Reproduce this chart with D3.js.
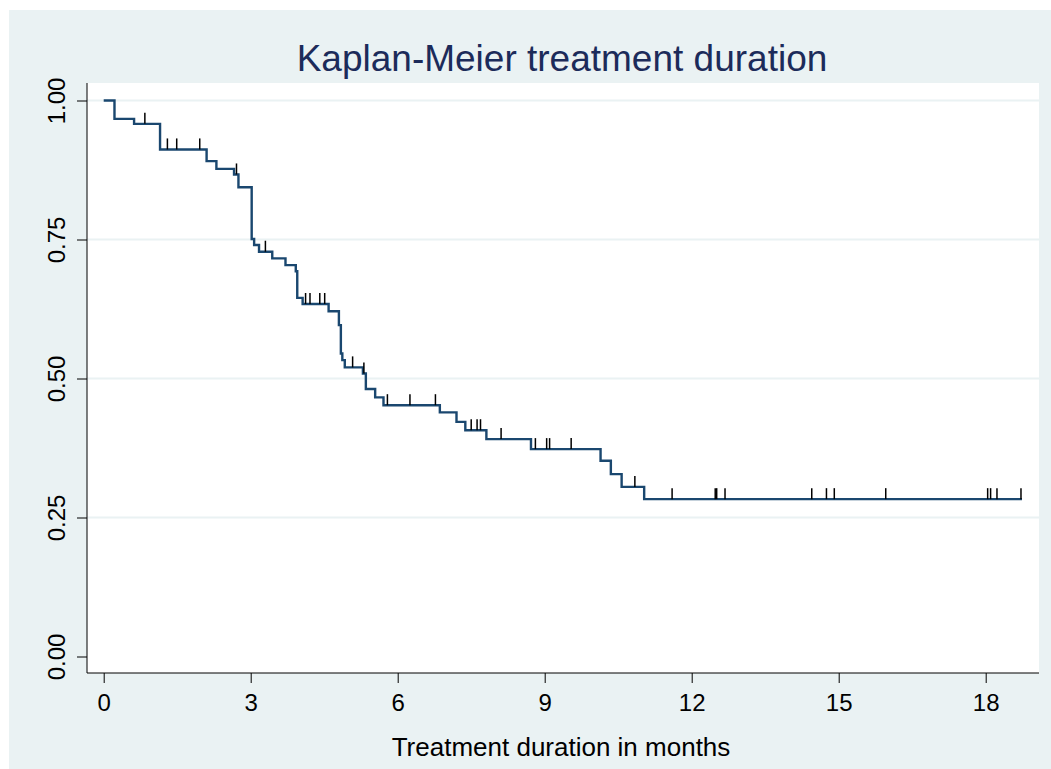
<!DOCTYPE html>
<html>
<head>
<meta charset="utf-8">
<script src="https://cdn.jsdelivr.net/npm/d3@7"></script>
<style>
  body { margin: 0; background: #fff; }
  text { font-family: "Liberation Sans", Arial, sans-serif; }
</style>
</head>
<body>
<div id="chart"></div>
<script>
// step times (months) where an event drops the curve, and survival after the drop
var eventTimes = [0.22, 0.62, 1.15, 2.10, 2.30, 2.66, 2.75, 3.02, 3.07, 3.17, 3.44, 3.71,
  3.92, 3.95, 4.06, 4.59, 4.80, 4.84, 4.87, 4.92, 5.29, 5.35, 5.54, 5.71, 6.86, 7.20,
  7.38, 7.81, 8.72, 10.14, 10.35, 10.57, 11.03];
var survival = [0.967, 0.958, 0.912, 0.891, 0.877, 0.867, 0.844, 0.751, 0.740, 0.728, 0.716, 0.704,
  0.693, 0.645, 0.634, 0.621, 0.596, 0.545, 0.533, 0.520, 0.509, 0.481, 0.466, 0.452, 0.439, 0.422,
  0.407, 0.391, 0.373, 0.352, 0.328, 0.305, 0.283];
// censored observations
var censorTimes = [0.84, 1.30, 1.49, 1.96, 2.71, 3.30, 4.12, 4.21, 4.41, 4.51, 5.08, 5.31,
  5.79, 6.25, 6.77, 7.50, 7.62, 7.69, 8.11, 8.81, 9.04, 9.10, 9.54, 10.84, 11.60, 12.48,
  12.51, 12.68, 14.45, 14.75, 14.91, 15.96, 18.04, 18.10, 18.23, 18.72];
var lastTime = 18.74;
var xTicks = [0, 3, 6, 9, 12, 15, 18];
var yTicks = [0, 0.25, 0.5, 0.75, 1];

var W = 1051, H = 769;
var box = {left: 87, right: 1039, top: 83, bottom: 673};

var svg = d3.select("#chart").append("svg")
    .attr("width", W)
    .attr("height", H);

// outer panel
svg.append("rect")
    .attr("x", 9).attr("y", 10)
    .attr("width", W - 9).attr("height", H - 10)
    .attr("fill", "#eaf2f3");

svg.append("rect")
    .attr("x", box.left).attr("y", box.top)
    .attr("width", box.right - box.left).attr("height", box.bottom - box.top)
    .attr("fill", "#fff");

var x = d3.scaleLinear().domain([0, 18]).range([103.7, 985.7]);
var y = d3.scaleLinear().domain([0, 1]).range([656.5, 100.5]);

// grid
svg.append("g").selectAll("line")
    .data(yTicks.filter(function(d) { return d > 0; }))
  .enter().append("line")
    .attr("x1", box.left).attr("x2", box.right)
    .attr("y1", function(d) { return y(d); })
    .attr("y2", function(d) { return y(d); })
    .attr("stroke", "#eaf2f3")
    .attr("stroke-width", 2);

// axes
var xAxis = d3.axisBottom(x).tickValues(xTicks).tickSize(10).tickPadding(6)
    .tickFormat(d3.format("d"));
var yAxis = d3.axisLeft(y).tickValues(yTicks).tickSize(10).tickPadding(10)
    .tickFormat(d3.format(".2f"));

var gx = svg.append("g")
    .attr("transform", "translate(0," + box.bottom + ")")
    .call(xAxis);
gx.select(".domain").attr("d", "M" + box.left + ",0H" + box.right);
gx.selectAll("text").attr("font-size", 24).attr("font-family", "Liberation Sans, Arial, sans-serif")
    .attr("fill", "#000").attr("dy", "0.9em");

var gy = svg.append("g")
    .attr("transform", "translate(" + box.left + ",0)")
    .call(yAxis);
gy.select(".domain").attr("d", "M0," + box.top + "V" + box.bottom);
gy.selectAll(".tick text")
    .attr("font-size", 24).attr("font-family", "Liberation Sans, Arial, sans-serif")
    .attr("fill", "#000")
    .attr("x", null).attr("dy", null)
    .attr("text-anchor", "middle")
    .attr("transform", "translate(-22,0) rotate(-90)");
svg.selectAll(".domain, .tick line").attr("stroke", "#000");

// KM step curve
var pts = [[0, 1]];
eventTimes.forEach(function(t, i) {
  pts.push([t, pts[pts.length - 1][1]]);
  pts.push([t, survival[i]]);
});
pts.push([lastTime, survival[survival.length - 1]]);

svg.append("path")
    .datum(pts)
    .attr("fill", "none")
    .attr("stroke", "#1a476f")
    .attr("stroke-width", 2.4)
    .attr("d", d3.line().x(function(d) { return x(d[0]); }).y(function(d) { return y(d[1]); }));

function survAt(t) {
  var s = 1;
  for (var i = 0; i < eventTimes.length; i++) {
    if (eventTimes[i] <= t) s = survival[i];
  }
  return s;
}

svg.append("g").selectAll("line")
    .data(censorTimes)
  .enter().append("line")
    .attr("x1", function(d) { return x(d); })
    .attr("x2", function(d) { return x(d); })
    .attr("y1", function(d) { return y(survAt(d)); })
    .attr("y2", function(d) { return y(survAt(d)) - 11; })
    .attr("stroke", "#000")
    .attr("stroke-width", 1.5);

// titles
svg.append("text")
    .attr("x", 562).attr("y", 71)
    .attr("text-anchor", "middle")
    .attr("font-size", 37)
    .attr("fill", "#1c2b5a")
    .text("Kaplan-Meier treatment duration");

svg.append("text")
    .attr("x", (box.left + box.right) / 2 - 2).attr("y", 756)
    .attr("text-anchor", "middle")
    .attr("font-size", 26)
    .attr("fill", "#000")
    .text("Treatment duration in months");
</script>
</body>
</html>
